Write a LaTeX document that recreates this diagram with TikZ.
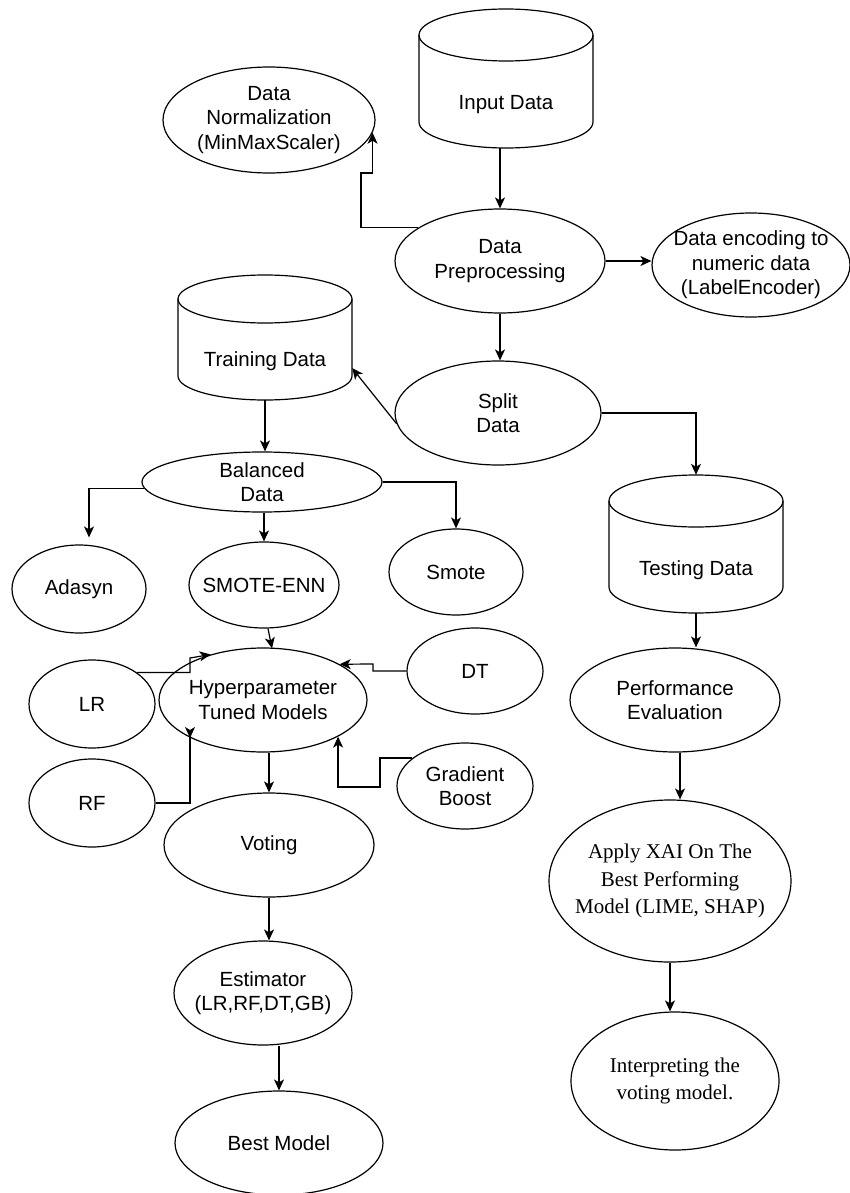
\documentclass[tikz,border=0pt]{standalone}
\usepackage{fontspec}
\setmainfont{Liberation Sans}
\newfontfamily\serifx{Liberation Serif}
\usetikzlibrary{shapes.geometric,arrows.meta,calc}
\tikzset{
  ln/.style={line width=1.2pt, draw=black},
  arr/.style={ln, -{Stealth[length=11pt,width=10pt,inset=3pt]}},
  arrR/.style={ln, -{Stealth[length=11pt,width=10pt,inset=3pt,reversed]}},
  txt/.style={font=\fontsize{20.5}{24.5}\selectfont, align=center, inner sep=0pt, text=black},
  stxt/.style={txt, font=\serifx\fontsize{21}{27.5}\selectfont},
  el/.style 2 args={ellipse, ln, minimum width=#1, minimum height=#2, inner sep=0pt},
}
\newcommand{\dbcyl}[7]{%
  \node[draw=none, minimum width={2*#5}, minimum height={#4-#3}, inner sep=0pt,
        label={[txt, yshift={-#6}]center:#7}] (#1) at (#2,{-(#3+#4)/2}) {};
  \draw[ln] (#2-#5,-#3-#6) -- (#2-#5,-#4+#6)
     arc[start angle=180,end angle=360,x radius=#5,y radius=#6] -- (#2+#5,-#3-#6);
  \draw[ln] (#2,-#3-#6) ellipse[x radius=#5,y radius=#6];
}
\begin{document}
\begin{tikzpicture}[x=1pt,y=1pt]
\fill[white] (0,0) rectangle (850,-1193);
\useasboundingbox (0,0) rectangle (850,-1193);

% cylinders
\dbcyl{input}{506}{9}{148}{87}{26}{Input Data}
\dbcyl{training}{265}{275}{400}{87}{24}{Training Data}
\dbcyl{testing}{696}{475}{613}{87}{26}{Testing Data}

% ellipses
\node[el={212}{106}, label={[txt]center:{Data\\Normalization\\(MinMaxScaler)}}] (norm) at (269,-120) {};
\node[el={210}{104}, label={[txt]center:{Data\\Preprocessing}}] (prep) at (500,-261) {};
\node[el={198}{104}, label={[txt]center:{Data encoding to\\numeric data\\(LabelEncoder)}}] (enc) at (751,-265) {};
\node[el={206}{104}, label={[txt]center:{Split\\Data}}] (split) at (498,-413) {};
\node[el={240}{60}, label={[txt]center:{Balanced\\Data}}] (bal) at (262,-482) {};
\node[el={134}{88}, label={[txt]center:{Adasyn}}] (adasyn) at (79,-589) {};
\node[el={150}{86}, label={[txt]center:{SMOTE-ENN}}] (smoteenn) at (264,-585) {};
\node[el={134}{86}, label={[txt]center:{Smote}}] (smote) at (456,-572) {};
\node[el={208}{104}, label={[txt]center:{Hyperparameter\\Tuned Models}}] (hyper) at (263,-700) {};
\node[el={126}{88}, label={[txt]center:{LR}}] (lr) at (92,-704) {};
\node[el={126}{88}, label={[txt]center:{RF}}] (rf) at (92,-803) {};
\node[el={136}{86}, label={[txt]center:{DT}}] (dt) at (475,-671) {};
\node[el={136}{86}, label={[txt]center:{Gradient\\Boost}}] (gb) at (465,-786) {};
\node[el={210}{104}, label={[txt]center:{Voting}}] (voting) at (269,-845) {};
\node[el={178}{104}, label={[txt]center:{Estimator\\(LR,RF,DT,GB)}}] (est) at (263,-993) {};
\node[el={208}{104}, label={[txt]center:{Best Model}}] (best) at (279,-1143) {};
\node[el={210}{104}, label={[txt]center:{Performance\\Evaluation}}] (perf) at (675,-700) {};
\node[el={242}{162}, label={[stxt]center:{Apply XAI On The\\Best Performing\\Model (LIME, SHAP)}}] (xai) at (670,-881) {};
\node[el={208}{138}, label={[stxt]center:{Interpreting the\\voting model.}}] (interp) at (675,-1081) {};

% connectors
\draw[arr] (input.south -| prep.north) -- (prep.north);
\draw[arr] (prep.158) -| (361,-173) -| (norm.-7);
\draw[arr] (prep.east) -- (enc.west |- prep.east);
\draw[arr] (prep.south) -- (prep.south |- split.north);
\draw[arr] (split.186) -- ($(training.south east)+(0,32)$);
\draw[arr] (split.east) -| (testing.north);
\draw[arr] (training.south) -- (training.south |- bal.north);
\draw[arr] (bal.183) -| ($(adasyn.north)+(10,7)$);
\draw[arr] (smoteenn.north |- bal.south) -- (smoteenn.north);
\draw[arr] (bal.east) -| (smote.north);
\draw[arr] ($(smoteenn.south)+(4,0)$) -- ($(hyper.north)+(9,-1)$);
\draw[arr] (lr.35) -| (190,-658) -- (hyper.139);
\draw[arrR] (rf.east) -| ($(hyper.center)+(-73,-27)$);
\draw[arr] (dt.west) -| (373,-664) -- (hyper.25);
\draw[arr] (gb.152) -| (380,-787) -| (hyper.-26);
\draw[arr] (voting.north |- hyper.south) -- (voting.north);
\draw[arr] (voting.south) -- (voting.south |- est.north);
\draw[arr] (best.north |- est.south) -- (best.north);
\draw[arr] (testing.south) -- (testing.south |- perf.north);
\draw[arr] ($(perf.south)+(5,0)$) -- ($(xai.north)+(10,0)$);
\draw[arr] (xai.south) -- (xai.south |- interp.north);
\end{tikzpicture}
\end{document}
